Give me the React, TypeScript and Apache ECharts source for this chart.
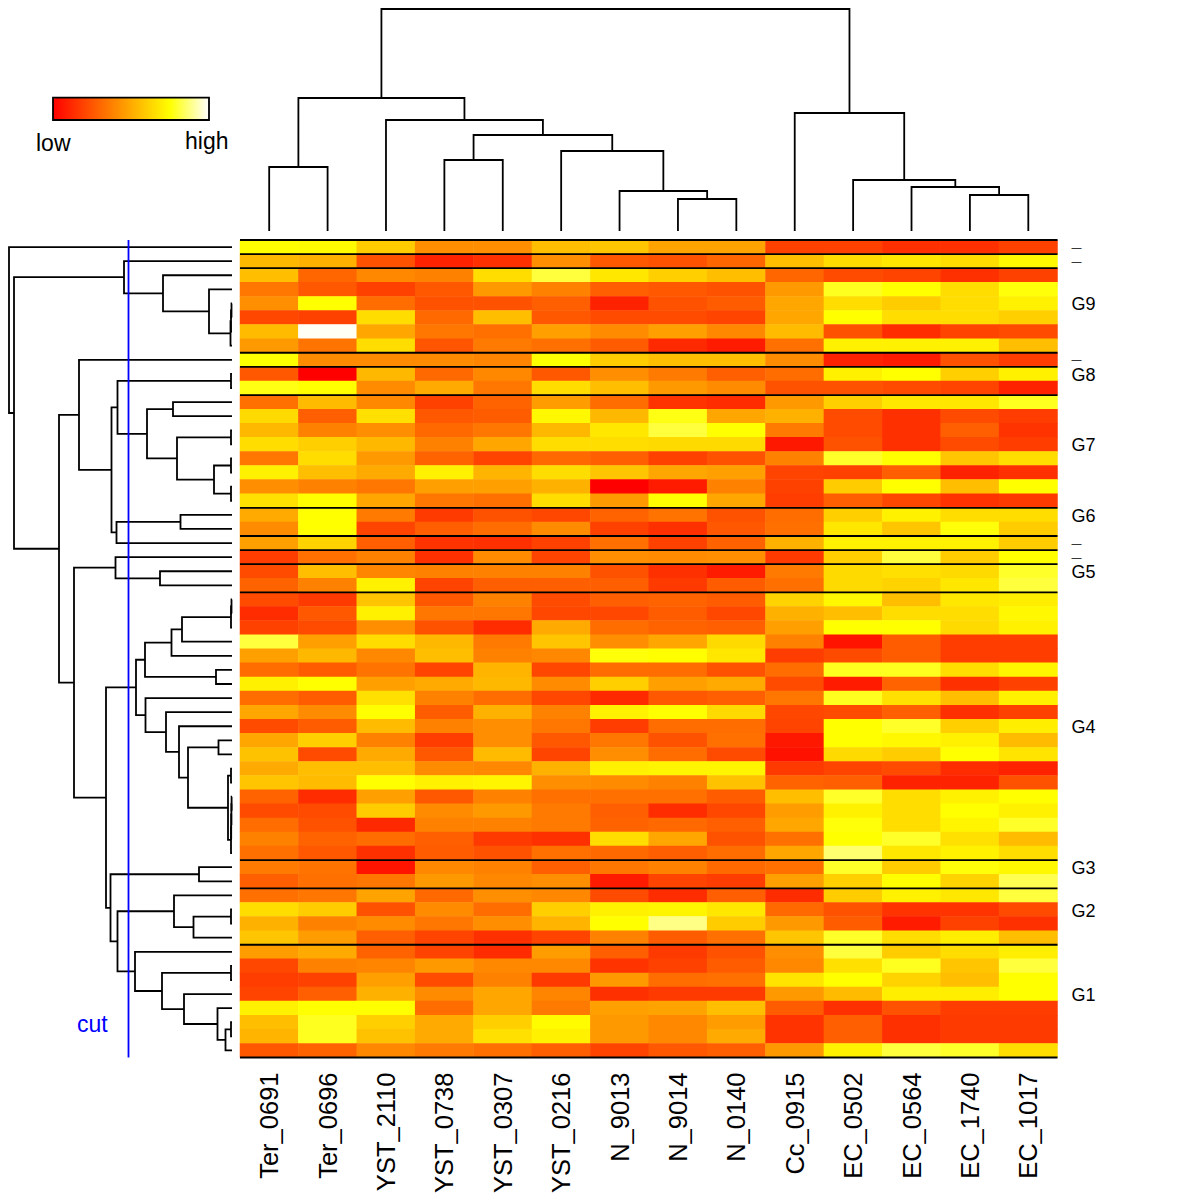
import React, { useEffect, useRef } from "react";
import * as echarts from "echarts";

const columns = ["Ter_0691","Ter_0696","YST_2110","YST_0738","YST_0307","YST_0216","N_9013","N_9014","N_0140","Cc_0915","EC_0502","EC_0564","EC_1740","EC_1017"];

const rowLabels = ["—","—","","","G9","","","","—","G8","","","","","G7","","","","","G6","","—","—","G5","","","","","","","","","","","G4","","","","","","","","","","G3","","","G2","","","","","","G1","","","",""];

// 0 = red, 75 = yellow, 100 = white
const matrix = [
[75,74,60,42,42,56,58,48,48,19,19,14,14,19],
[54,52,24,10,14,42,26,24,30,56,65,68,65,73],
[56,30,40,38,65,81,68,61,56,30,22,20,14,19],
[35,26,19,26,45,38,28,26,24,45,78,75,65,76],
[42,75,32,24,24,28,10,24,27,49,65,60,65,71],
[21,19,65,31,56,26,22,22,20,49,75,65,65,61],
[55,99,49,35,33,47,41,47,40,55,24,13,20,22],
[45,34,65,25,36,33,27,12,8,33,71,71,71,56],
[75,41,41,41,39,75,60,56,56,41,10,8,24,18],
[26,0,54,31,40,26,42,36,28,32,71,75,61,71],
[77,75,41,50,35,65,56,45,41,24,24,22,20,10],
[33,55,40,19,29,46,32,15,13,45,61,68,68,78],
[64,28,66,26,27,73,54,77,49,52,22,14,22,18],
[54,38,42,31,35,54,68,81,75,36,22,14,28,15],
[65,61,54,38,49,65,65,64,64,7,24,14,22,18],
[35,65,45,29,20,31,28,19,24,38,79,75,58,65],
[71,56,50,71,53,65,58,49,47,20,19,28,10,14],
[42,38,35,47,47,52,0,8,38,19,60,75,56,75],
[66,75,49,35,33,65,45,75,49,18,28,21,15,17],
[50,75,36,17,24,21,29,34,24,32,61,71,65,65],
[41,75,20,28,32,41,19,14,26,33,68,58,76,60],
[47,62,28,15,14,19,33,19,29,52,71,71,71,60],
[18,33,38,14,41,20,42,41,42,17,61,81,60,75],
[22,56,39,38,38,38,24,14,8,36,64,66,64,79],
[29,38,71,20,28,28,28,17,27,33,64,62,68,81],
[22,17,58,26,38,22,28,29,27,62,73,56,68,70],
[13,26,71,35,35,21,21,27,21,52,56,65,65,73],
[19,22,42,24,13,50,32,29,28,47,75,75,64,71],
[81,47,65,54,36,58,42,49,64,38,6,27,18,18],
[47,54,40,56,38,40,76,75,68,18,22,27,18,18],
[32,27,34,20,53,21,32,32,24,32,78,78,65,72],
[71,75,47,50,54,41,61,47,50,22,8,29,14,19],
[32,27,66,38,32,21,12,26,28,35,78,66,56,71],
[49,41,75,27,52,38,71,75,64,21,22,28,14,19],
[22,27,55,38,42,35,18,32,32,20,75,79,61,70],
[49,61,38,18,42,26,35,24,33,7,75,73,71,55],
[57,22,50,26,55,20,42,32,22,5,64,60,75,67],
[50,56,56,41,40,52,71,72,72,17,20,22,13,10],
[58,55,75,71,72,42,41,38,57,29,28,10,10,24],
[29,13,47,26,38,33,33,33,27,56,79,65,71,75],
[22,22,60,41,45,36,28,13,21,46,71,65,75,71],
[32,24,12,38,38,36,29,31,28,49,76,65,72,79],
[38,29,32,28,17,14,65,49,24,33,75,79,66,55],
[33,26,14,27,24,33,31,28,32,49,86,68,71,65],
[36,34,6,40,38,28,35,38,31,33,79,60,76,73],
[28,33,35,45,40,42,8,20,18,47,61,75,62,83],
[33,35,48,31,42,40,22,13,28,13,60,71,68,81],
[65,60,24,41,32,61,71,72,68,31,24,15,15,22],
[52,38,41,35,42,53,75,88,60,45,27,8,19,14],
[58,46,28,20,14,20,38,27,33,58,79,65,70,56],
[46,50,29,20,13,46,28,17,24,42,81,60,65,70],
[21,38,39,45,40,40,15,19,27,40,66,78,58,81],
[18,19,47,22,38,17,45,32,33,67,75,62,56,75],
[20,28,52,41,49,39,14,17,17,45,55,70,70,75],
[71,75,75,32,49,36,47,48,56,27,14,24,18,18],
[56,78,61,50,61,74,45,40,46,15,28,14,17,17],
[53,78,57,50,66,71,45,40,50,15,28,14,17,17],
[26,29,40,36,33,28,20,26,28,45,71,81,79,65],
];

// row boundaries of the cut groups
const separators = [0,1,2,8,9,11,19,21,22,23,25,44,46,50,58];

// [height, child, child]; a number child is a leaf index
const topTree = [222,
  [133, [64,0,1], [111, 2, [96, [71,3,4], [80, 5, [40, 6, [32,7,8]]]]]],
  [118, 9, [51, 10, [44, 11, [36,12,13]]]],
];

const g9 = [108, 1, [69, 2, [23, 3, [1.5, [1, [0.5,4,5], 6], 7]]]];
const g4a = [87,
  [60.5, [50, [1, [0.5,25,26], 27], 28], 29],
  [16, 30, 31],
];
const g4b = [86.5, 32, [66, 33, [53, 34, [44, [13.5,35,36], [4, [1,37,38], [1, [0.8, [0.6, [0.4,39,40], 41], 42], 43]]]]]];
const g1 = [97, 50, [70, [1,51,52], [48, 53, [14.5, 54, [6.5, [1,55,56], 57]]]]];
const leftTree = [223, 0,
  [218, g9,
    [173,
      [153, 8, [120.5, [114.5, [1,9,10], [85, [59,11,12], [55, [1,13,14], [18, [1,15,16], [1,17,18]]]]], [115.5, [51.5,19,20], 21]]],
      [158,
        [116.5, 22, [72,23,24]],
        [126,
          [96, g4a, g4b],
          [121.5,
            [33,44,45],
            [114.5, [58, 46, [38.5, [1,47,48], 49]], g1],
          ],
        ],
      ],
    ],
  ],
];

const cutHeight = 103.5;

type Seg = number[];
function walk(node: any, out: Seg[]): [number, number] {
  if (typeof node === "number") return [node + 0.5, 0];
  const [h, a, b] = node;
  const [pa, ha] = walk(a, out);
  const [pb, hb] = walk(b, out);
  out.push([h, pa, ha, pb, hb]);
  return [(pa + pb) / 2, h];
}
const topSegs: Seg[] = [];
walk(topTree, topSegs);
const leftSegs: Seg[] = [];
walk(leftTree, leftSegs);

const heatData: number[][] = [];
matrix.forEach((row, r) => row.forEach((v, c) => heatData.push([c, r, v])));

const stroke = { stroke: "#000", lineWidth: 1.8, fill: "none" };

const GL = 240, GT = 240, GS = 817.5;

function buildOption(): any {
  return {
    animation: false,
    backgroundColor: "#fff",
    textStyle: { fontFamily: "Liberation Sans" },
    grid: [
      { left: GL, top: GT, width: GS, height: GS },
      { left: GL, top: 9, width: GS, height: 222 },
      { left: 0, top: GT, width: 232, height: GS },
    ],
    xAxis: [
      { type: "category", gridIndex: 0, data: columns, position: "bottom",
        axisTick: { show: false }, axisLine: { show: false },
        axisLabel: { interval: 0, rotate: 90, margin: 15, fontSize: 25.5, color: "#000", fontFamily: "Liberation Sans" } },
      { type: "value", gridIndex: 0, min: 0, max: 14, show: false },
      { type: "value", gridIndex: 1, min: 0, max: 14, show: false },
      { type: "value", gridIndex: 2, min: 0, max: 232, inverse: true, show: false },
    ],
    yAxis: [
      { type: "category", gridIndex: 0, data: rowLabels, inverse: true, position: "right",
        axisTick: { show: false }, axisLine: { show: false },
        axisLabel: { interval: 0, margin: 14, color: "#000", fontFamily: "Liberation Sans",
          formatter: (v: string) => (v === "—" ? "{d|—}" : v ? "{g|" + v + "}" : ""),
          rich: {
            d: { fontSize: 10, lineHeight: 10, fontFamily: "Liberation Sans", color: "#000" },
            g: { fontSize: 18, lineHeight: 14, padding: [2, 0, 0, 0], fontFamily: "Liberation Sans", color: "#000" },
          } } },
      { type: "value", gridIndex: 0, min: 0, max: 58, inverse: true, show: false },
      { type: "value", gridIndex: 1, min: 0, max: 222, show: false },
      { type: "value", gridIndex: 2, min: 0, max: 58, inverse: true, show: false },
    ],
    visualMap: {
      type: "continuous", seriesIndex: 0, min: 0, max: 100, orient: "horizontal",
      left: 53, top: 98, itemWidth: 22, itemHeight: 156, padding: 0,
      calculable: false, realtime: false, showLabel: false, hoverLink: false,
      inRange: { color: ["#ff0000", "#ff5500", "#ffaa00", "#ffff00", "#ffffff"] },
    },
    series: [
      { type: "heatmap", xAxisIndex: 0, yAxisIndex: 0, data: heatData, itemStyle: { borderWidth: 0 }, silent: true },
      { type: "custom", xAxisIndex: 1, yAxisIndex: 1, data: separators.map((s) => [s]), silent: true, clip: false,
        renderItem: (_: any, api: any) => {
          const a = api.coord([0, api.value(0)]);
          const b = api.coord([14, api.value(0)]);
          return { type: "line", shape: { x1: a[0], y1: a[1], x2: b[0], y2: b[1] }, style: { stroke: "#000", lineWidth: 1.8 } };
        } },
      { type: "custom", xAxisIndex: 2, yAxisIndex: 2, data: topSegs, silent: true, clip: false,
        renderItem: (_: any, api: any) => {
          const h = api.value(0);
          const pts = [[api.value(1), api.value(2)], [api.value(1), h], [api.value(3), h], [api.value(3), api.value(4)]];
          return { type: "polyline", shape: { points: pts.map((p) => api.coord(p)) }, style: stroke };
        } },
      { type: "custom", xAxisIndex: 3, yAxisIndex: 3, data: leftSegs, silent: true, clip: false,
        renderItem: (_: any, api: any) => {
          const h = api.value(0);
          const pts = [[api.value(2), api.value(1)], [h, api.value(1)], [h, api.value(3)], [api.value(4), api.value(3)]];
          return { type: "polyline", shape: { points: pts.map((p) => api.coord(p)) }, style: stroke };
        } },
      { type: "custom", xAxisIndex: 3, yAxisIndex: 3, data: [[cutHeight]], silent: true, clip: false,
        renderItem: (_: any, api: any) => {
          const a = api.coord([api.value(0), 0]);
          const b = api.coord([api.value(0), 58]);
          return { type: "line", shape: { x1: a[0], y1: a[1], x2: b[0], y2: b[1] }, style: { stroke: "#0000ff", lineWidth: 1.8 } };
        } },
    ],
    graphic: [
      { type: "rect", x: 53, y: 97.7, z: 100, shape: { width: 156, height: 22.3 }, style: { fill: "none", stroke: "#000", lineWidth: 1.8 } },
      { type: "text", left: 36, top: 131, style: { text: "low", fontSize: 23, fontFamily: "Liberation Sans", fill: "#000" } },
      { type: "text", left: 185, top: 129, style: { text: "high", fontSize: 23, fontFamily: "Liberation Sans", fill: "#000" } },
      { type: "text", left: 77, top: 1012, style: { text: "cut", fontSize: 23, fontFamily: "Liberation Sans", fill: "#0000ff" } },
    ],
  };
}

export default function App() {
  const ref = useRef<HTMLDivElement>(null);
  useEffect(() => {
    document.body.style.margin = "0";
    const chart = echarts.init(ref.current!, undefined, { renderer: "svg" });
    chart.setOption(buildOption());
    return () => chart.dispose();
  }, []);
  return <div ref={ref} style={{ width: 1200, height: 1200 }} />;
}
